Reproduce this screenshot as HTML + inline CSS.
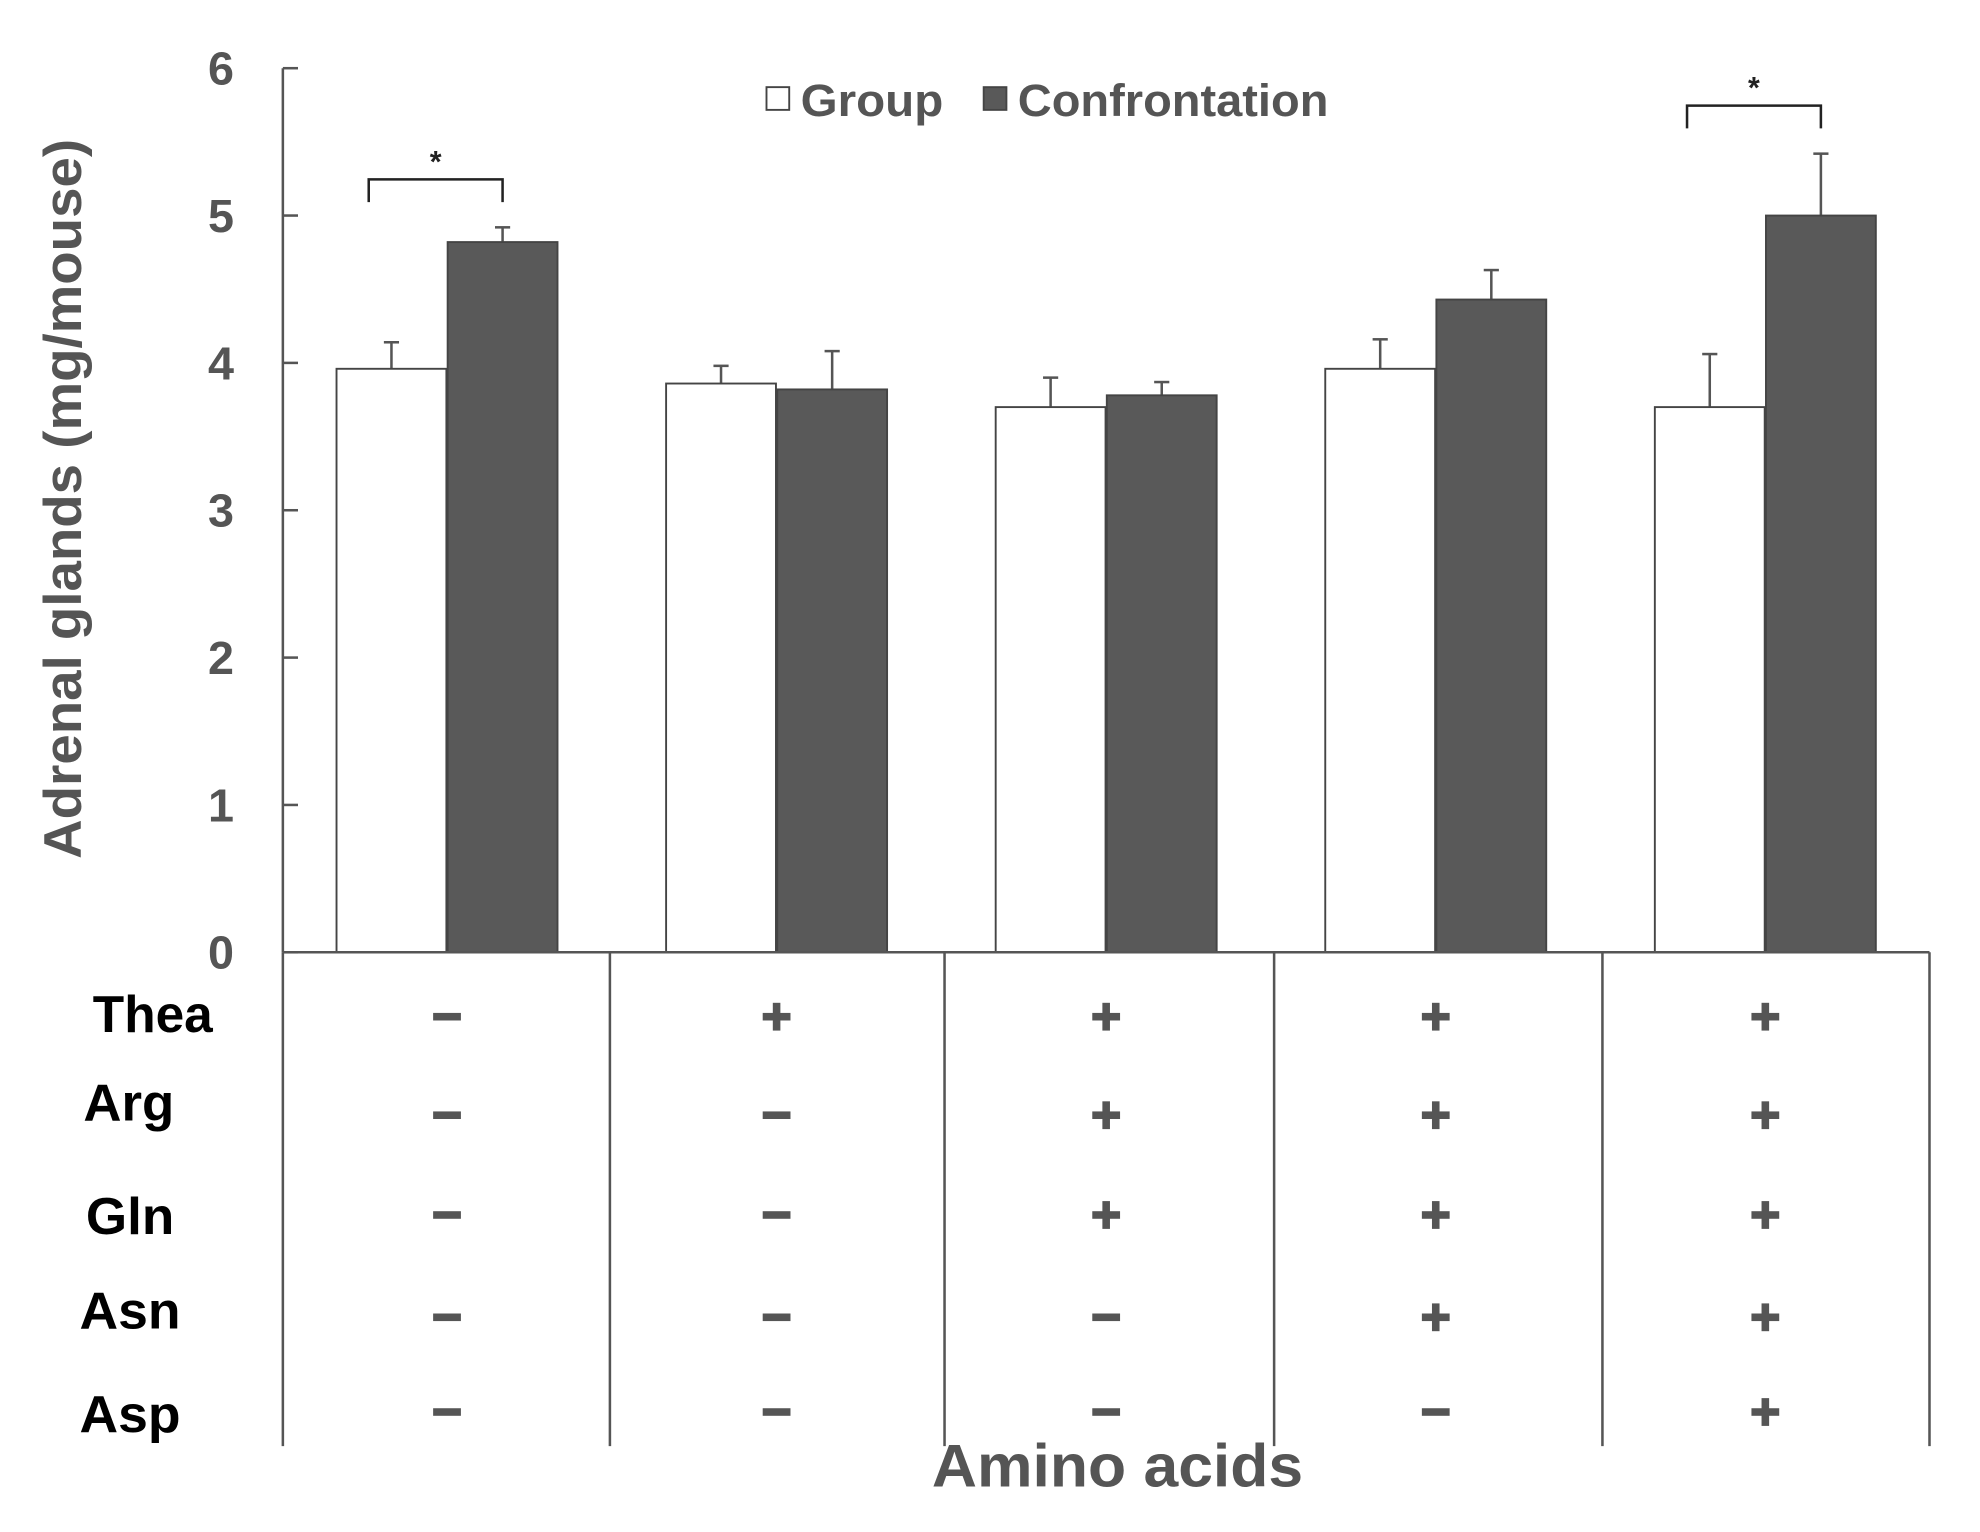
<!DOCTYPE html>
<html><head><meta charset="utf-8"><style>
html,body{margin:0;padding:0;background:#fff;}
svg{display:block;}
text{font-family:"Liberation Sans",Arial,sans-serif;font-weight:bold;}
</style></head><body>
<svg id="chart" width="1980" height="1532" viewBox="0 0 1568 1213" preserveAspectRatio="none" xmlns="http://www.w3.org/2000/svg"></svg>
<script>
const categories = ["G1","G2","G3","G4","G5"];
const groupValues = [3.96, 3.86, 3.70, 3.96, 3.70];
const groupErrors = [0.18, 0.12, 0.20, 0.20, 0.36];
const confValues = [4.82, 3.82, 3.78, 4.43, 5.00];
const confErrors = [0.10, 0.26, 0.09, 0.20, 0.42];
const yTicks = [0,1,2,3,4,5,6];
const rowLabels = ["Thea","Arg","Gln","Asn","Asp"];
const signs = [
  ["-","+","+","+","+"],
  ["-","-","+","+","+"],
  ["-","-","+","+","+"],
  ["-","-","-","+","+"],
  ["-","-","-","-","+"]
];
const sigPairs = [0, 4];

const svg = document.getElementById('chart');
const NS = "http://www.w3.org/2000/svg";
function mk(tag, attrs, parent){
  const e = document.createElementNS(NS, tag);
  for (const k in attrs) e.setAttribute(k, attrs[k]);
  (parent||svg).appendChild(e);
  return e;
}
const X0 = 224, X1 = 1528, Y0 = 754, Y6 = 54;
const yScale = v => Y0 - (Y0 - Y6) * v / 6;
const groupCenter = i => 354 + i * 261;
const barW = 87;
const gray = "#555";

let e = mk('line',{x1:X0,y1:Y6,x2:X0,y2:Y0,stroke:gray,'stroke-width':2});
 
yTicks.forEach(t=>{
  const y = yScale(t);
  let l = mk('line',{x1:X0,y1:y,x2:X0+12,y2:y,stroke:gray,'stroke-width':2});
   
  let tx = mk('text',{x:175,y:y+13,'text-anchor':'middle','font-size':37,fill:gray});
  tx.textContent = t;
   
});
e = mk('text',{x:0,y:0,transform:'translate(64,395) rotate(-90)','text-anchor':'middle','font-size':42,fill:gray,textLength:570,lengthAdjust:'spacingAndGlyphs'});
e.textContent = "Adrenal glands (mg/mouse)";
 

categories.forEach((c,i)=>{
  const cx = groupCenter(i);
  [[groupValues,groupErrors,'#fff',cx-barW/2-0.5,'bar-group'],[confValues,confErrors,'#595959',cx+barW/2+0.5,'bar-confrontation']].forEach(([vals,errs,fill,bc,name])=>{
    const v = vals[i], top = yScale(v);
    const eTop = yScale(v + errs[i]);
    let el = mk('line',{x1:bc,y1:top,x2:bc,y2:eTop,stroke:gray,'stroke-width':2});
     
    el = mk('line',{x1:bc-6,y1:eTop,x2:bc+6,y2:eTop,stroke:gray,'stroke-width':2});
     
    el = mk('rect',{x:bc-barW/2,y:top,width:barW,height:Y0-top,fill:fill,stroke:'#444','stroke-width':1.5});
     
  });
});

sigPairs.forEach(i=>{
  const cx = groupCenter(i);
  const xl = cx - 62, xr = cx + 44;
  const top = Math.max(confValues[i]+confErrors[i], groupValues[i]+groupErrors[i]);
  const yb = yScale(top) - 38, yd = yb + 18;
  let p = mk('path',{d:`M${xl},${yd} L${xl},${yb} L${xr},${yb} L${xr},${yd}`,fill:'none',stroke:'#222','stroke-width':2});
   
  let t = mk('text',{x:(xl+xr)/2,y:yb-6,'text-anchor':'middle','font-size':24,fill:'#222'});
  t.textContent = "*";
   
});

e = mk('line',{x1:X0,y1:Y0,x2:X1,y2:Y0,stroke:gray,'stroke-width':2});
 
[224,483,748,1009,1269,1528].forEach(x=>{
  let l = mk('line',{x1:x,y1:Y0,x2:x,y2:1145,stroke:gray,'stroke-width':2});
   
});
const rowY = [805, 883, 962, 1043, 1118];
const labelY = [803, 873, 963, 1038, 1120];
const labelX = [121, 102, 103, 103, 103];
const labelW = [95, 72, 70, 80, 80];
rowLabels.forEach((r,ri)=>{
  let t = mk('text',{x:labelX[ri],y:labelY[ri]+14,'text-anchor':'middle','font-size':41,fill:'#000',textLength:labelW[ri],lengthAdjust:'spacingAndGlyphs'});
  t.textContent = r;
   
  signs[ri].forEach((s,ci)=>{
    const cx = groupCenter(ci), cy = rowY[ri];
    const g = mk('g',{});
     
    mk('rect',{x:cx-11,y:cy-3,width:22,height:6,fill:gray},g);
    if (s==='+') mk('rect',{x:cx-3,y:cy-11,width:6,height:22,fill:gray},g);
  });
});
e = mk('text',{x:885,y:1177,'text-anchor':'middle','font-size':48,fill:gray,textLength:294,lengthAdjust:'spacingAndGlyphs'});
e.textContent = "Amino acids";
 

let lg = mk('g',{});
 
let li = mk('g',{},lg);
 
mk('rect',{x:607,y:69,width:18,height:18,fill:'#fff',stroke:'#444','stroke-width':1.5},li);
e = mk('text',{x:634,y:92,'font-size':36,fill:gray,textLength:113,lengthAdjust:'spacingAndGlyphs'},li); e.textContent = "Group";
li = mk('g',{},lg);
 
mk('rect',{x:779,y:69,width:18,height:18,fill:'#595959',stroke:'#444','stroke-width':1.5},li);
e = mk('text',{x:806,y:92,'font-size':36,fill:gray,textLength:246,lengthAdjust:'spacingAndGlyphs'},li); e.textContent = "Confrontation";
</script>
</body></html>
